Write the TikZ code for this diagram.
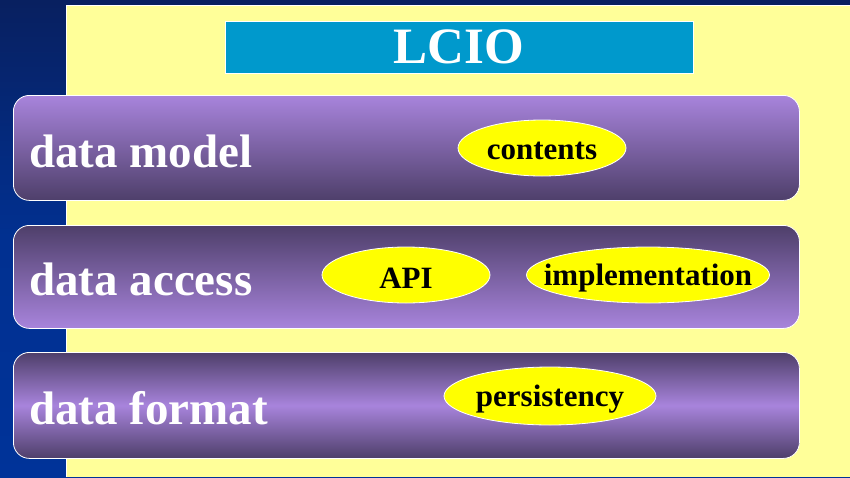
\documentclass[tikz,border=0pt]{standalone}
\usepackage{fontspec}
\setmainfont{Liberation Serif}
\usetikzlibrary{shapes.geometric}
\definecolor{navydark}{RGB}{8,32,96}
\definecolor{navy}{RGB}{0,51,153}
\definecolor{cream}{RGB}{255,255,153}
\definecolor{titleblue}{RGB}{0,153,204}
\definecolor{plight}{RGB}{168,132,220}
\definecolor{pdark}{RGB}{78,63,106}
\definecolor{ellyellow}{RGB}{255,255,0}
\tikzset{
  panel/.style={draw=white, line width=0.8pt, rounded corners=16pt, anchor=north west,
    minimum width=786pt, inner sep=0pt},
  lbl/.style={anchor=west, inner sep=0pt, text=white, font=\bfseries\fontsize{47}{52}\selectfont},
  ell/.style={ellipse, draw=white, line width=0.8pt, fill=ellyellow, inner sep=0pt,
    minimum height=56pt},
  elltext/.style={inner sep=0pt, font=\bfseries\fontsize{31}{34}\selectfont},
}
\begin{document}
\begin{tikzpicture}[x=1pt,y=-1pt]
\useasboundingbox (0,0) rectangle (850,477);
% background
\shade[top color=navydark, bottom color=navy, middle color=navy!85!navydark] (0,0) rectangle (850,477);
\fill[navydark] (0,0) rectangle (850,5);
\fill[cream] (66,5) rectangle (850,477);
\draw[white, line width=0.8pt] (66,477) -- (66,5) -- (850,5);
% title
\node[draw=white, line width=0.8pt, fill=titleblue, minimum width=468pt, minimum height=52pt,
  inner sep=0pt, text=white, font=\bfseries\fontsize{51}{54}\selectfont] (title) at (459,47) {LCIO};
% panels
\node[panel, minimum height=105pt, top color=plight, bottom color=pdark] (model) at (13,95) {};
\node[panel, minimum height=103pt, top color=pdark, bottom color=plight] (access) at (13,225) {};
\node[panel, minimum height=106pt, top color=pdark, bottom color=pdark, middle color=plight] (format) at (13,352) {};
% labels
\node[lbl] (lmodel) at (29,151) {data model};
\node[lbl] (laccess) at (29,279) {data access};
\node[lbl] (lformat) at (29,408) {data format};
% ellipses
\node[ell, minimum width=168pt] (contents) at (542,148) {};
\node[ell, minimum width=168pt] (api) at (406,275) {};
\node[ell, minimum width=243pt] (impl) at (648,275) {};
\node[ell, minimum width=212pt, minimum height=58pt] (pers) at (550,396) {};
\node[elltext] (tcontents) at ([yshift=-3pt]contents.center) {contents};
\node[elltext] (tapi) at ([yshift=-3pt]api.center) {API};
\node[elltext] (timpl) at ([yshift=-3pt]impl.center) {implementation};
\node[elltext] (tpers) at ([yshift=-3pt]pers.center) {persistency};
\end{tikzpicture}
\end{document}
